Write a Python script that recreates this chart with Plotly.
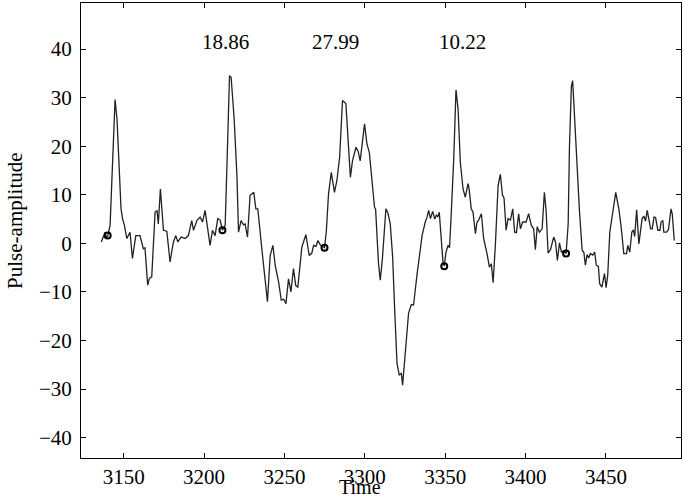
import plotly.graph_objects as go

# Signal samples (time, pulse amplitude)
time = [3136, 3137, 3138.4, 3139.2, 3140, 3141.5, 3143, 3144.6, 3145.8, 3147, 3148.3, 3149.3,
        3150.4, 3151.9, 3153.9, 3155.4, 3157.5, 3160.1, 3162.2, 3163.2, 3164.9, 3166, 3167.4,
        3169.5, 3170.7, 3171.5, 3172.8, 3174.7, 3176.8, 3178.8, 3180.9, 3182.4, 3183.6, 3185.7,
        3188.2, 3190.2, 3192.3, 3193.4, 3195.5, 3197.5, 3199, 3200.6, 3202.3, 3203.7, 3205.2,
        3206.8, 3208.5, 3210, 3211.4, 3213.1, 3214.5, 3215.8, 3216.8, 3218.7, 3220.4, 3221.4,
        3223, 3224.5, 3225.5, 3227, 3228.6, 3229.7, 3230.9, 3232.2, 3233.4, 3235.9, 3238,
        3239.4, 3241.1, 3242.8, 3244.2, 3246.3, 3248, 3249.5, 3250.9, 3252.5, 3254, 3255.6,
        3257, 3258.3, 3260.8, 3263.3, 3265.4, 3267, 3268.1, 3269.6, 3270.8, 3272.4, 3274.9,
        3276, 3277.4, 3279.1, 3281.1, 3282.6, 3284.3, 3286.1, 3288.2, 3289.5, 3291, 3292.3,
        3294.5, 3295.8, 3297.1, 3299.8, 3301.3, 3302.8, 3304.4, 3306, 3306.7, 3308.5, 3309.6,
        3311, 3313.1, 3314.4, 3315.8, 3317.3, 3318.5, 3320, 3321.4, 3322.7, 3323.5, 3324.7,
        3326, 3327.2, 3328.9, 3330.3, 3332.4, 3334.5, 3335.6, 3337.6, 3338.7, 3339.7, 3340.8,
        3342.2, 3343.5, 3344.5, 3345.4, 3346.3, 3347.4, 3348.6, 3349.4, 3350.5, 3351.8, 3352.7,
        3353.8, 3355.3, 3356.7, 3358, 3359.4, 3361.1, 3362.5, 3364.2, 3364.9, 3366.2, 3367.3,
        3368.8, 3369.8, 3370.8, 3372.5, 3373.9, 3376, 3377.5, 3378.7, 3379.8, 3381.2, 3382.9,
        3384.3, 3385.6, 3386.6, 3387.9, 3389.1, 3390.6, 3392, 3393.2, 3394.3, 3395.7, 3396.8,
        3398.2, 3400.3, 3401.9, 3403.6, 3405, 3406.1, 3407.2, 3408.6, 3410.3, 3411.7, 3412.8,
        3414, 3415.5, 3417.5, 3418.6, 3419.8, 3421.1, 3422.3, 3423.5, 3425.2, 3426.5, 3427.3,
        3428.5, 3429.3, 3430.4, 3432.1, 3433.5, 3435.2, 3436.3, 3437.2, 3438.3, 3439.3, 3440.3,
        3441.8, 3443, 3444, 3445.3, 3446.1, 3447.5, 3449.1, 3450.1, 3451.1, 3452.4, 3454.5,
        3456.1, 3458, 3459.5, 3461.1, 3462.8, 3463.6, 3464.8, 3466.1, 3467.1, 3467.9, 3469.1,
        3470.5, 3471.6, 3472.5, 3473.6, 3474.6, 3475.7, 3476.7, 3477.8, 3478.8, 3479.9, 3480.9,
        3482.3, 3483.6, 3484.3, 3485.4, 3486, 3487.7, 3488.9, 3490.5, 3491.3, 3492.5]

amplitude = [0.3, 1.0, 2.3, 1.2, 1.5, 3.7, 18, 29.6, 25.6, 15, 7.1, 5,
             3.7, 1, 2.3, -3.1, 1.6, 1.6, -1.1, -0.9, -8.6, -7.2, -6.9,
             6.4, 6.8, 4, 11.2, 2.7, 2.5, -3.8, 0.3, 1.6, 0.3, 1.3,
             1, 1.6, 4.7, 2.7, 4.7, 5.4, 4.4, 6.8, 3, -0.4, 2.7,
             1.6, 5.1, 4.8, 2.7, 3.7, 19.4, 34.5, 34.2, 25.6, 14, 2.3,
             4.7, 3.8, 4, 1.3, 9.9, 10.2, 10.5, 7.1, 7.1, -1.1, -7.9,
             -12, -2.5, -0.4, -4.5, -7.9, -11.7, -11.5, -12.4, -7.3, -10, -5.2,
             -8.7, -9, -0.8, 1.8, -2.5, -2, -0.4, -0.6, 0.6, -0.4, -0.9,
             2.3, 10.2, 14.6, 10.5, 12.9, 17.7, 29.4, 28.8, 20.5, 13.6, 17,
             19.8, 19, 17, 24.6, 20.5, 18.7, 12.3, 7.5, 7, -4.2, -7.6,
             -2.8, 7.1, 6.2, 4, -2.8, -13.1, -24.7, -27.1, -26.8, -29.2, -24.7,
             -20, -14.4, -12.6, -12.7, -6.6, -1.1, 1.6, 4.4, 5.4, 6.8, 5.1,
             6.6, 5, 5.8, 5.5, 6.4, 2.3, -3.8, -4.7, -1.8, -0.4, -0.9,
             6.4, 17.4, 31.6, 27.7, 16.7, 11.2, 9.5, 12.3, 11.1, 7.1, 6.4,
             2, 4.4, 4.8, 6.1, 1, -2.1, -4.9, -4.2, -8.1, -0.4, 11.9,
             14.2, 10, 9.3, 2.7, 5.1, 4.8, 7.1, 2.3, 2.2, 6.1, 3,
             4.4, 4.4, 6.1, 3.7, 3, -1.3, 3.4, 2.3, 3, 10.5, 6.6,
             -2, -1.3, 1.3, 0.3, -3.5, 0.1, -1.8, -1.6, -2.1, 4, 19.8,
             32.4, 33.5, 25.3, 15.7, 6.8, -1.4, -1.9, -4.5, -2.3, -3.0, -2.1,
             -2.4, -1.8, -4.5, -4.8, -8.3, -9, -6.2, -9.1, -6.6, 2.3, 7.1,
             10.5, 7.1, 3.3, -2.1, -2.1, -0.4, -1.8, 2.3, 2.8, 1.4, 6.9,
             -0.1, 2.9, 5.1, 5.6, 4.6, 6.8, 4.8, 3, 3, 5.4, 5.3,
             2.7, 2.7, 4.4, 4.7, 2.3, 2.3, 2.8, 7.1, 6, 0.6]

# Marked onset points
marker_time = [3140, 3211.4, 3274.9, 3349.4, 3425.2]
marker_amp = [1.6, 2.7, -0.9, -4.7, -2.1]

# Interval labels
label_text = ["18.86", "27.99", "10.22"]
label_time = [3213, 3281.5, 3360.6]
label_amp = [41.5, 41.5, 41.5]

x_ticks = [3150, 3200, 3250, 3300, 3350, 3400, 3450]
y_ticks = [-40, -30, -20, -10, 0, 10, 20, 30, 40]

FONT = "Liberation Serif, Times New Roman, serif"

fig = go.Figure()
fig.add_trace(go.Scatter(x=time, y=amplitude, mode="lines",
                         line=dict(color="#222222", width=1.3), showlegend=False))
fig.add_trace(go.Scatter(x=marker_time, y=marker_amp, mode="markers",
                         marker=dict(symbol="circle-open", size=6, color="black",
                                     line=dict(width=2, color="black")),
                         showlegend=False))

for txt, tx, ty in zip(label_text, label_time, label_amp):
    fig.add_annotation(x=tx, y=ty, text=txt, showarrow=False,
                       font=dict(family=FONT, size=21, color="black"))

fig.add_annotation(xref="paper", yref="paper", x=0.465, y=-0.0901, text="Time",
                   showarrow=False, yanchor="bottom", borderpad=0,
                   font=dict(family=FONT, size=20, color="black"))
fig.add_annotation(xref="paper", yref="paper", x=0, y=0.521, xshift=-66,
                   text="Pulse-amplitude", textangle=-90, showarrow=False,
                   xanchor="center", yanchor="middle",
                   font=dict(family=FONT, size=21, color="black"))

axis_common = dict(showgrid=False, zeroline=False, showline=True, linecolor="black",
                   linewidth=1, mirror="ticks", ticks="inside", ticklen=5,
                   tickcolor="black", tickwidth=1, automargin=False,
                   tickfont=dict(family=FONT, size=21, color="black"))

fig.update_xaxes(range=[3123.4, 3496.7], tickvals=x_ticks, ticklabelstandoff=0,
                 **axis_common)
fig.update_yaxes(range=[-44.2, 49.5], tickvals=y_ticks, ticklabelstandoff=4, **axis_common)

fig.update_layout(width=684, height=501, margin=dict(l=81, r=3, t=3, b=43),
                  plot_bgcolor="white", paper_bgcolor="white")

fig.write_html("out.html", config={"displayModeBar": False},
               post_script="document.body.style.margin='0';document.body.style.overflow='hidden';")
